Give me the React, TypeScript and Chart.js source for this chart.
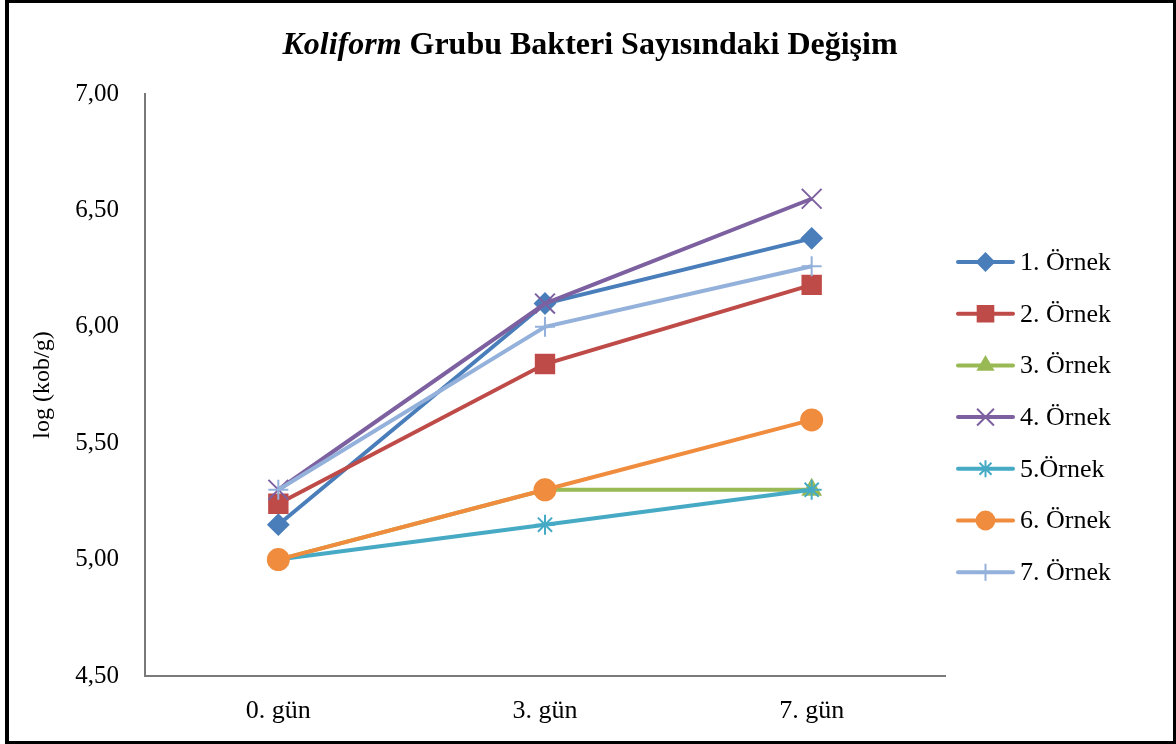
import React, { useEffect, useRef } from "react";
import { Chart, registerables } from "chart.js";
import { drawPoint } from "chart.js/helpers";

Chart.register(...registerables);

// Sampling days (x categories)
const days = ["0. gün", "3. gün", "7. gün"];

// log (kob/g) per sample
const ornek1 = [5.15, 6.1, 6.38];
const ornek2 = [5.24, 5.84, 6.18];
const ornek3 = [5.0, 5.3, 5.3];
const ornek4 = [5.3, 6.1, 6.55];
const ornek5 = [5.0, 5.15, 5.3];
const ornek6 = [5.0, 5.3, 5.6];
const ornek7 = [5.3, 6.0, 6.26];

const seriesNames = ["1. Örnek", "2. Örnek", "3. Örnek", "4. Örnek", "5.Örnek", "6. Örnek", "7. Örnek"];
const seriesValues = [ornek1, ornek2, ornek3, ornek4, ornek5, ornek6, ornek7];
const seriesColors = ["#4A7EBB", "#BE4B48", "#98B954", "#7D60A0", "#46AAC5", "#F08C3E", "#93B1DA"];
const markerStyles = ["rectRot", "rect", "triangle", "crossRot", "star", "circle", "cross"];
const markerRadii = [10, 13, 10, 14, 10, 10.5, 10];

// Y axis range
const yMin = 4.5;
const yMax = 7.0;
const yStep = 0.5;

const SERIF = '"Liberation Serif", "Times New Roman", serif';

const titlePlugin = {
  id: "mixedTitle",
  afterDraw(chart: any) {
    const ctx = chart.ctx;
    const italicPart = "Koliform";
    const boldPart = " Grubu Bakteri Sayısındaki Değişim";
    ctx.save();
    ctx.fillStyle = "#000";
    ctx.textBaseline = "alphabetic";
    ctx.font = `italic bold 32px ${SERIF}`;
    const w1 = ctx.measureText(italicPart).width;
    ctx.font = `bold 32px ${SERIF}`;
    const w2 = ctx.measureText(boldPart).width;
    const x0 = 590 - (w1 + w2) / 2;
    const baseline = 54;
    ctx.font = `italic bold 32px ${SERIF}`;
    ctx.fillText(italicPart, x0, baseline);
    ctx.font = `bold 32px ${SERIF}`;
    ctx.fillText(boldPart, x0 + w1, baseline);
    ctx.restore();
  },
};

const legendPlugin = {
  id: "sideLegend",
  afterDraw(chart: any) {
    const ctx = chart.ctx;
    const lineX0 = 958;
    const lineX1 = 1013;
    const textX = 1020;
    const top = 262;
    const gap = 51.7;
    ctx.save();
    seriesNames.forEach((name, i) => {
      const y = top + i * gap;
      const color = seriesColors[i];
      ctx.strokeStyle = color;
      ctx.lineWidth = 4;
      ctx.lineCap = "round";
      ctx.beginPath();
      ctx.moveTo(lineX0, y);
      ctx.lineTo(lineX1, y);
      ctx.stroke();
      ctx.fillStyle = color;
      ctx.strokeStyle = color;
      ctx.lineWidth = 2;
      ctx.lineCap = "butt";
      drawPoint(
        ctx,
        { pointStyle: markerStyles[i], rotation: 0, radius: markerRadii[i] * 0.85, borderWidth: 2 },
        (lineX0 + lineX1) / 2,
        y
      );
      ctx.fillStyle = "#000";
      ctx.font = `26px ${SERIF}`;
      ctx.textBaseline = "middle";
      ctx.textAlign = "left";
      ctx.fillText(name, textX, y + 1);
    });
    ctx.restore();
  },
};

export default function App() {
  const canvasRef = useRef<HTMLCanvasElement | null>(null);

  useEffect(() => {
    if (!canvasRef.current) return;
    const chart = new Chart(canvasRef.current, {
      type: "line",
      data: {
        labels: days,
        datasets: seriesNames.map((name, i) => ({
          label: name,
          data: seriesValues[i],
          borderColor: seriesColors[i],
          backgroundColor: seriesColors[i],
          pointBackgroundColor: seriesColors[i],
          pointBorderColor: seriesColors[i],
          pointStyle: markerStyles[i] as any,
          pointRadius: markerRadii[i],
          pointBorderWidth: 2,
          borderWidth: 4,
          tension: 0,
          fill: false,
          order: seriesNames.length - i,
        })),
      },
      options: {
        responsive: false,
        animation: false,
        devicePixelRatio: 1,
        layout: { padding: { top: 94, right: 231, bottom: 0, left: 0 } },
        plugins: {
          legend: { display: false },
          title: { display: false },
          tooltip: { enabled: false },
        },
        scales: {
          x: {
            type: "category",
            offset: true,
            grid: { display: false, drawTicks: false },
            border: { display: true, color: "#7a7a7a", width: 2 },
            ticks: {
              color: "#000",
              font: { family: SERIF, size: 26 },
              padding: 20,
              maxRotation: 0,
            },
            afterFit(scale: any) {
              scale.height = 68;
            },
          },
          y: {
            min: yMin,
            max: yMax,
            grid: { display: false, drawTicks: false },
            border: { display: true, color: "#7a7a7a", width: 2 },
            ticks: {
              stepSize: yStep,
              color: "#000",
              font: { family: SERIF, size: 25 },
              padding: 26,
              callback: (v: any) => Number(v).toFixed(2).replace(".", ","),
            },
            title: {
              display: true,
              text: "log (kob/g)",
              color: "#000",
              font: { family: SERIF, size: 24 },
              padding: { top: 28, bottom: 0 },
            },
            afterFit(scale: any) {
              scale.width = 145;
            },
          },
        },
      },
      plugins: [titlePlugin, legendPlugin],
    });
    return () => chart.destroy();
  }, []);

  return (
    <div style={{ position: "absolute", left: 0, top: 0, width: 1176, height: 744, background: "#fff" }}>
      <canvas
        ref={canvasRef}
        width={1176}
        height={744}
        style={{ position: "absolute", left: 0, top: 0, width: 1176, height: 744 }}
      />
      <div
        style={{
          position: "absolute",
          left: 5,
          top: 0,
          width: 1171,
          height: 744,
          border: "3px solid #000",
          borderLeftWidth: 4,
          boxSizing: "border-box",
          pointerEvents: "none",
        }}
      />
    </div>
  );
}
